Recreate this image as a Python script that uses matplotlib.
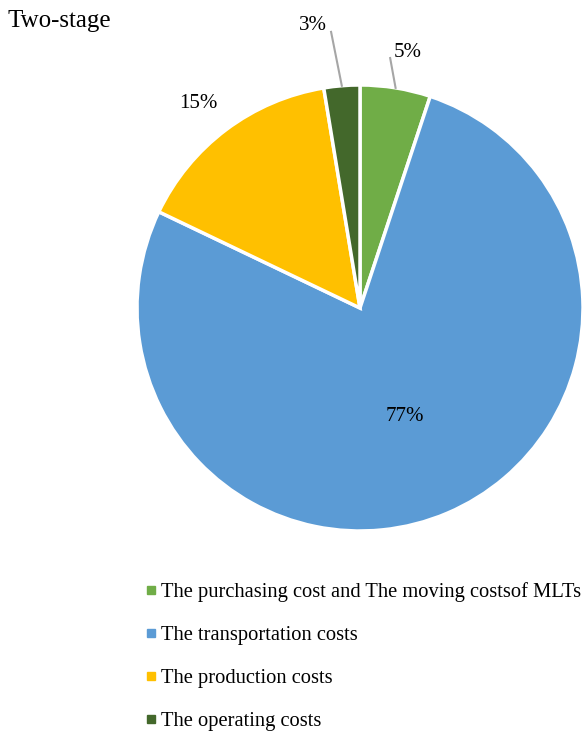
import numpy as np
import matplotlib
matplotlib.use("Agg")
import matplotlib.pyplot as plt
from matplotlib.lines import Line2D

plt.rcParams['font.family'] = ['Liberation Serif', 'DejaVu Serif']

# Cost shares of the two-stage scheme (percent)
categories = [
    "The purchasing cost and The moving costsof MLTs",
    "The transportation costs",
    "The production costs",
    "The operating costs",
]
shares = [5.1, 77.0, 15.3, 2.6]
colors = ["#70AD47", "#5B9BD5", "#FFC000", "#43682B"]

W, H = 584, 734
fig = plt.figure(figsize=(W / 100, H / 100), dpi=100)

cx, cy, r = 360, 308, 223
ax = fig.add_axes([(cx - r) / W, 1 - (cy + r) / H, 2 * r / W, 2 * r / H])
wedges, _ = ax.pie(shares, colors=colors, startangle=90, counterclock=False,
                   radius=1.0, wedgeprops=dict(edgecolor="white", linewidth=2.5))
ax.set_xlim(-1, 1)
ax.set_ylim(-1, 1)
ax.set_aspect("equal")
ax.axis("off")

# label placement: radial distance and angular nudge per slice
label_dist = [1.18, 0.51, 1.18, 1.30]
label_nudge = [-1.3, 0.0, 1.0, 4.6]
# leader line end (angle nudge, radius); None = no leader
leader_end = [(2.3, 1.129), None, None, (1.3, 1.245)]

for w, v, d, nd, le in zip(wedges, shares, label_dist, label_nudge, leader_end):
    mid = (w.theta1 + w.theta2) / 2
    ang = np.deg2rad(mid + nd)
    tx, ty = d * np.cos(ang), d * np.sin(ang) - 0.015
    ax.text(tx, ty, f"{v:.0f}%", ha="center", va="center", fontsize=15,
            clip_on=False)
    if le is not None:
        m = np.deg2rad(mid)
        ea = np.deg2rad(mid + le[0])
        ax.plot([np.cos(m), le[1] * np.cos(ea)], [np.sin(m), le[1] * np.sin(ea)],
                color="#A6A6A6", lw=1.5, clip_on=False)

fig.text(8 / W, 1 - 21 / H, "Two-stage", ha="left", va="center", fontsize=18)

handles = [Line2D([], [], marker="s", linestyle="none", markersize=5.5,
                  markerfacecolor=c, markeredgecolor=c) for c in colors]
fig.legend(handles, categories, loc="upper left",
           bbox_to_anchor=(145 / W, 1 - 582 / H), frameon=False,
           fontsize=14.8, handlelength=0.6, handletextpad=0.2,
           labelspacing=1.15, borderpad=0, borderaxespad=0)

fig.savefig("out.png", dpi=100)
